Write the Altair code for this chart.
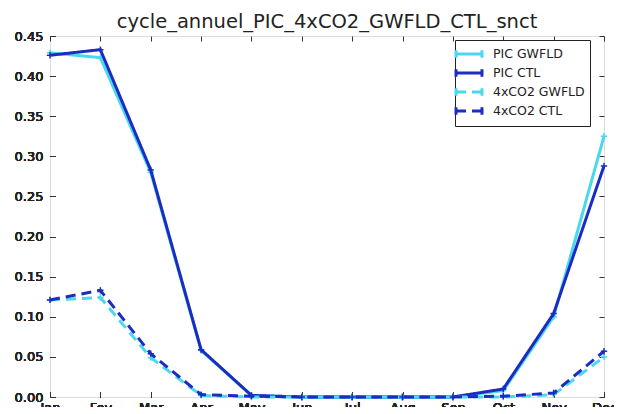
import altair as alt
import pandas as pd

months = ["Jan", "Fev", "Mar", "Apr", "May", "Jun", "Jul", "Aug", "Sep", "Oct", "Nov", "Dec"]
series_names = ["PIC GWFLD", "PIC CTL", "4xCO2 GWFLD", "4xCO2 CTL"]
pic_gwfld = [0.429, 0.423, 0.280, 0.058, 0.002, 0.000, 0.000, 0.000, 0.000, 0.008, 0.100, 0.325]
pic_ctl = [0.426, 0.433, 0.283, 0.059, 0.002, 0.000, 0.000, 0.000, 0.000, 0.010, 0.104, 0.288]
co2_gwfld = [0.121, 0.124, 0.049, 0.002, 0.000, 0.000, 0.000, 0.000, 0.000, 0.000, 0.003, 0.050]
co2_ctl = [0.121, 0.133, 0.054, 0.003, 0.001, 0.000, 0.000, 0.000, 0.000, 0.001, 0.005, 0.057]
y_ticks = [0.0, 0.05, 0.10, 0.15, 0.20, 0.25, 0.30, 0.35, 0.40, 0.45]

colors = ["#4ad8ee", "#1b2cc0", "#4ad8ee", "#1b2cc0"]
dashes = [[1, 0], [1, 0], [10, 6], [10, 6]]

values = [pic_gwfld, pic_ctl, co2_gwfld, co2_ctl]
rows = []
for name, vals in zip(series_names, values):
    for m, v in zip(months, vals):
        rows.append({"month": m, "value": v, "series": name})
df = pd.DataFrame(rows)

FONT = "DejaVu Sans"
TXT = "#222222"

x_enc = alt.X("month:O", sort=months, scale=alt.Scale(type="point", padding=0),
              axis=alt.Axis(title=None, orient="bottom", offset=-5, tickSize=5, domain=False,
                            labelPadding=4, labelAngle=0, labelFont=FONT, labelFontSize=13,
                            labelFontWeight="normal", labelColor=TXT, tickColor="#333", grid=False))
y_enc = alt.Y("value:Q", scale=alt.Scale(domain=[0, 0.45], nice=False),
              axis=alt.Axis(title=None, orient="left", offset=-5, tickSize=5, domain=False,
                            values=y_ticks, format=".2f", labelPadding=7, labelFont=FONT,
                            labelFontSize=13, labelFontWeight="normal", labelColor=TXT,
                            tickColor="#333", grid=False))

SYM = "M-1.75,0L1.75,0M-1.75,-0.5L-1.75,0.5M1.75,-0.5L1.75,0.5"
legend_kw = dict(title=None, orient="none", legendX=405, legendY=4,
                 fillColor="white", strokeColor="#222", padding=5,
                 labelFont=FONT, labelFontSize=12.5, labelColor=TXT,
                 symbolType=SYM, symbolSize=220, symbolStrokeWidth=3,
                 rowPadding=-2, labelOffset=15, cornerRadius=0)

color_enc = alt.Color("series:N", scale=alt.Scale(domain=series_names, range=colors),
                      legend=alt.Legend(**legend_kw))
dash_enc = alt.StrokeDash("series:N", scale=alt.Scale(domain=series_names, range=dashes),
                          legend=alt.Legend(**legend_kw))

base = alt.Chart(df)
layers = []
for name, col in zip(series_names, colors):
    sub = base.transform_filter(alt.datum.series == name)
    layers.append(sub.mark_line(strokeWidth=3).encode(x=x_enc, y=y_enc, color=color_enc,
                                                       strokeDash=dash_enc))
    layers.append(sub.mark_point(shape="M-1,0L1,0M0,-1L0,1", filled=False, size=40,
                                 strokeWidth=1.5, opacity=1).encode(
        x=x_enc, y=y_enc, stroke=alt.value(col)))

# inward ticks on the top and right edges
top_axis = base.mark_point(opacity=0).encode(
    x=alt.X("month:O", sort=months, scale=alt.Scale(type="point", padding=0),
            axis=alt.Axis(title=None, orient="top", offset=-5, tickSize=5, domain=False,
                          labels=False, tickColor="#333", grid=False)),
    y=alt.Y("value:Q", scale=alt.Scale(domain=[0, 0.45], nice=False),
            axis=alt.Axis(title=None, orient="right", offset=-5, tickSize=5, domain=False,
                          labels=False, values=y_ticks, tickColor="#333", grid=False)),
)

chart = alt.layer(*layers, top_axis).resolve_axis(x="independent", y="independent").properties(
    width=554, height=361,
    title=alt.TitleParams("cycle_annuel_PIC_4xCO2_GWFLD_CTL_snct", font=FONT, fontSize=19.5,
                          fontWeight="normal", color=TXT, anchor="middle", offset=4, dy=6),
    autosize=alt.AutoSizeParams(type="none"),
    padding={"left": 42, "top": 28, "right": 10, "bottom": 10},
).configure_view(stroke="#222", strokeWidth=1.5).configure(background="white")

chart.save("out.html", embed_options={"renderer": "svg", "actions": False})
